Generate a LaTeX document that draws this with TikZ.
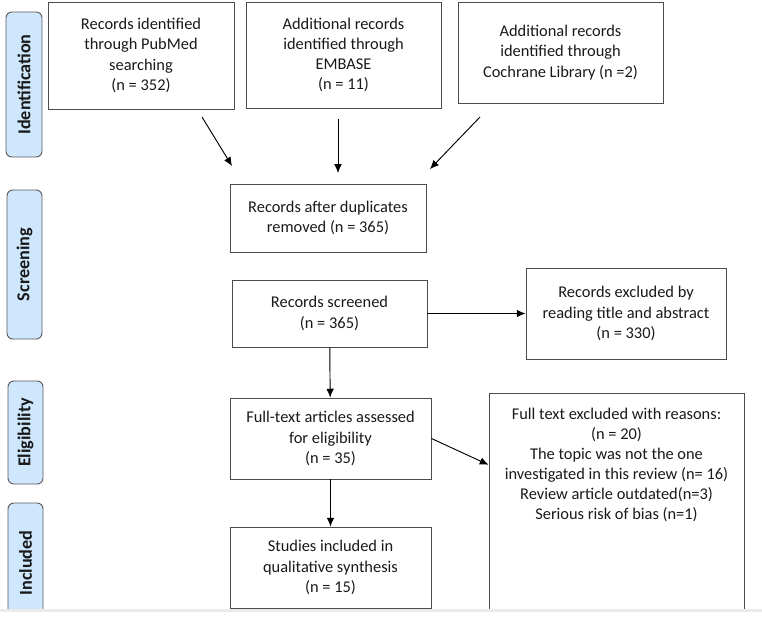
\documentclass[tikz,border=0pt]{standalone}
\usepackage{fontspec}
\setmainfont{Carlito}
\usepackage{xcolor}
\usepackage{tikz}
\usetikzlibrary{arrows.meta,calc}
\definecolor{phasecol}{RGB}{206,231,252}

\begin{document}
\begin{tikzpicture}[
			x=0.03cm, y=-0.03cm,
			>={Latex[length=7.5pt,width=6.5pt]},
			every node/.style={font=\fontsize{14}{17.2}\selectfont, text=black!90},
			size/.style 2 args={minimum width=#1*0.03cm, minimum height=#2*0.03cm},
			box/.style={draw=black!70, line width=0.8pt, align=center, inner sep=0pt},
			phase/.style={draw=black!65, fill=phasecol, rounded corners=5pt, line width=0.8pt, rotate=90, inner sep=0pt, font=\fontsize{15.5}{18}\selectfont\bfseries},
			flow/.style={->, line width=0.8pt}
			]

				\useasboundingbox (0,0) rectangle (762,620);

				\node[phase, size={145}{36}] (ident) at (24,84.5) {Identification};
				\node[phase, size={149}{35}] (screen) at (24.5,264.5) {Screening};
				\node[phase, size={103}{35}] (elig) at (25.5,432.5) {Eligibility};
				\begin{scope}
					\clip (0,0) rectangle (762,609);
					\node[phase, size={120}{35}] (incl) at (25.5,563) {Included};
				\end{scope}

				\node[box, size={186}{107}] (pubmed) at (141,55.5) {Records identified\\through PubMed\\searching\\(n = 352)};
				\node[box, size={195}{106}] (embase) at (343.5,55) {Additional records\\identified through\\EMBASE\\(n = 11)};
				\node[box, size={205}{101}] (cochrane) at (560.5,52.5) {Additional records\\identified through\\Cochrane Library (n =2)};
				\node[box, size={196}{68}] (dupl) at (328,218) {Records after duplicates\\removed (n = 365)};
				\node[box, size={195}{67}] (screened) at (329.5,313.5) {Records screened\\(n = 365)};
				\node[box, size={200}{91}] (titleexcl) at (626,313.5) {Records excluded by\\reading title and abstract\\(n = 330)};
				\node[box, size={201}{81}] (fulltext) at (330.5,438.5) {Full-text articles assessed\\for eligibility\\(n = 35)};
				\node[box, size={201}{81}] (included) at (330.5,567.5) {Studies included in\\qualitative synthesis\\(n = 15)};
				\node[box, size={255}{218}] (reasons) at (616.5,502) {};
				\node[anchor=north, align=center, inner sep=0pt] (reasonstext) at ($(reasons.north)+(0,15)$) {Full text excluded with reasons:\\(n = 20)\\The topic was not the one\\investigated in this review (n= 16)\\Review article outdated(n=3)\\Serious risk of bias (n=1)};

				\coordinate (pubmedtail) at (202,117);
				\coordinate (pubmedtip) at (232,166);
				\coordinate (embasetail) at (338,119);
				\coordinate (embasetip) at (338,173);
				\coordinate (cochranetail) at (480,117);
				\coordinate (cochranetip) at (430,169);

				\draw[flow] (pubmedtail) -- (pubmedtip);
				\draw[flow] (embasetail) -- (embasetip);
				\draw[flow] (cochranetail) -- (cochranetip);

				\draw[flow] (screened) -- (titleexcl);
				\draw[flow] (screened) -- (fulltext);
				\draw[flow] (fulltext) -- (included);
				\draw[flow] (fulltext.east) -- ($(reasons.north west)!0.33!(reasons.south west)$);

				\fill[black!8] (0,609) rectangle (762,612);

			\end{tikzpicture}
\end{document}
